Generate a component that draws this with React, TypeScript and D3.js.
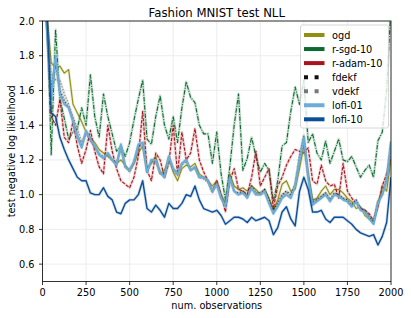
import * as d3 from "d3";

const OBS = d3.range(0, 2001, 25);

const ogd = [
  2.4, 2.05, 1.76, 1.73, 1.74, 1.70, 1.72, 1.52, 1.47, 1.42,
  1.36, 1.33, 1.30, 1.26, 1.24, 1.22, 1.20, 1.18, 1.20, 1.17,
  1.14, 1.18, 1.24, 1.28, 1.15, 1.18, 1.22, 1.12, 1.14, 1.21,
  1.13, 1.08, 1.15, 1.17, 1.16, 1.18, 1.12, 1.10, 1.08, 1.05,
  1.08, 1.00, 0.95, 1.12, 1.05, 1.03, 1.04, 1.02, 1.05, 1.03,
  1.00, 1.03, 0.98, 0.91, 0.97, 1.06, 1.08, 1.02, 1.03, 1.15,
  1.28, 1.12, 0.97, 0.98, 1.02, 1.05, 1.00, 1.03, 1.03, 1.01,
  0.98, 0.96, 0.92, 0.93, 0.88, 0.86, 0.84, 0.93, 1.05, 1.02,
  1.20,
];

const rsgd10 = [
  2.4, 2.1, 1.23, 1.95, 1.55, 1.44, 1.32, 1.36, 1.38, 1.50,
  1.40, 1.69, 1.45, 1.33, 1.58, 1.45, 1.35, 1.25, 1.28, 1.22,
  1.30, 1.43, 1.55, 1.66, 1.32, 1.29, 1.45, 1.57, 1.40, 1.32,
  1.45, 1.30, 1.50, 1.65, 1.56, 1.53, 1.40, 1.35, 1.35, 1.18,
  1.36, 1.12, 0.97, 1.16, 1.40, 1.58, 1.14, 1.21, 1.33, 1.22,
  1.13, 1.18, 1.14, 0.96, 1.08, 1.28, 1.30, 1.48, 1.62, 1.52,
  1.66, 1.30, 1.35, 1.24, 1.20, 1.31, 1.18, 1.25, 1.32, 1.20,
  1.19, 1.22, 1.16, 1.10, 1.14, 1.17, 1.10, 1.31, 1.36, 1.60,
  2.10,
];

const radam10 = [
  2.4, 2.0, 1.45, 1.40, 1.55, 1.33, 1.30, 1.42, 1.28, 1.18,
  1.26, 1.37, 1.25, 1.16, 1.12, 1.40, 1.25, 1.15, 1.08, 1.06,
  1.04, 1.10, 1.22, 1.48, 1.14, 1.08, 1.24, 1.20, 1.10, 1.18,
  1.40, 1.12, 1.36, 1.20, 1.24, 1.38, 1.20, 1.13, 1.08, 1.02,
  1.08, 1.00, 0.90, 1.08, 1.15, 1.03, 1.02, 1.00, 1.10, 1.25,
  1.05, 1.10, 1.15, 0.92, 1.05, 1.10, 1.17, 1.22, 1.26, 1.25,
  1.24, 1.27, 1.08, 1.06, 1.17, 1.08, 1.05, 1.06, 0.98, 1.18,
  1.02, 0.98, 0.95, 0.92, 0.91, 0.89, 0.85, 0.93, 1.05, 1.12,
  1.22,
];

const fdekf = [
  2.4, 1.97, 1.62, 1.75, 1.60, 1.54, 1.50, 1.43, 1.34, 1.28,
  1.36, 1.31, 1.28, 1.23, 1.21, 1.24, 1.20, 1.17, 1.28, 1.16,
  1.14, 1.19, 1.28, 1.30, 1.13, 1.20, 1.20, 1.13, 1.10, 1.22,
  1.15, 1.12, 1.18, 1.20, 1.14, 1.16, 1.10, 1.10, 1.08, 1.02,
  1.06, 0.98, 0.94, 1.10, 1.02, 1.01, 1.02, 0.99, 1.05, 1.01,
  1.01, 1.03, 0.97, 0.91, 0.95, 1.00, 1.02, 1.00, 1.06, 1.22,
  1.34, 1.11, 0.96, 0.97, 0.99, 1.01, 0.97, 1.01, 1.00, 0.98,
  0.97, 0.94, 0.97, 0.92, 0.91, 0.87, 0.84, 0.96, 1.00, 1.09,
  1.31,
];

const vdekf = [
  2.4, 1.98, 1.70, 1.66, 1.66, 1.58, 1.52, 1.45, 1.38, 1.30,
  1.36, 1.32, 1.27, 1.24, 1.22, 1.23, 1.20, 1.18, 1.26, 1.16,
  1.13, 1.18, 1.27, 1.29, 1.13, 1.19, 1.19, 1.12, 1.11, 1.21,
  1.14, 1.11, 1.17, 1.19, 1.14, 1.15, 1.10, 1.09, 1.07, 1.01,
  1.07, 0.99, 0.94, 1.09, 1.02, 1.00, 1.01, 0.99, 1.03, 1.00,
  1.00, 1.01, 0.95, 0.90, 0.94, 0.99, 1.01, 0.99, 1.05, 1.18,
  1.30, 1.09, 0.95, 0.97, 0.99, 1.01, 0.97, 1.00, 0.99, 0.98,
  0.96, 0.94, 0.96, 0.92, 0.91, 0.88, 0.85, 0.96, 1.01, 1.07,
  1.28,
];

const lofi01 = [
  2.4, 1.95, 1.55, 1.80, 1.58, 1.52, 1.50, 1.42, 1.33, 1.27,
  1.37, 1.32, 1.28, 1.23, 1.21, 1.24, 1.20, 1.17, 1.29, 1.16,
  1.14, 1.19, 1.29, 1.30, 1.13, 1.20, 1.20, 1.13, 1.10, 1.22,
  1.15, 1.12, 1.18, 1.20, 1.14, 1.16, 1.10, 1.10, 1.08, 1.02,
  1.06, 0.98, 0.93, 1.10, 1.02, 1.00, 1.01, 0.98, 1.04, 1.00,
  1.00, 1.02, 0.95, 0.89, 0.93, 0.98, 1.00, 0.98, 1.05, 1.20,
  1.33, 1.10, 0.94, 0.96, 0.98, 1.00, 0.96, 1.00, 0.99, 0.97,
  0.96, 0.93, 0.96, 0.91, 0.90, 0.86, 0.83, 0.95, 1.00, 1.08,
  1.30,
];

const lofi10 = [
  2.4, 2.05, 1.47, 1.45, 1.33, 1.26, 1.20, 1.15, 1.10, 1.08,
  1.08, 1.01, 1.00, 1.00, 1.04, 0.99, 0.97, 0.90, 0.89, 0.95,
  0.97, 0.97, 1.00, 1.08, 0.92, 0.90, 0.94, 0.91, 0.87, 0.95,
  0.92, 0.92, 0.95, 1.00, 0.99, 1.05, 0.97, 0.92, 0.91, 0.90,
  0.91, 0.88, 0.83, 0.85, 0.87, 0.87, 0.86, 0.84, 0.87, 0.85,
  0.86, 0.87, 0.85, 0.77, 0.81, 0.90, 0.93, 0.86, 0.82, 1.02,
  1.10, 1.03, 0.90, 0.90, 0.91, 0.86, 0.84, 0.87, 0.87, 0.87,
  0.85, 0.83, 0.80, 0.78, 0.77, 0.76, 0.77, 0.71, 0.76, 0.84,
  1.10,
];

const X_TICKS = [0, 250, 500, 750, 1000, 1250, 1500, 1750, 2000];
const Y_TICKS = [0.6, 0.8, 1.0, 1.2, 1.4, 1.6, 1.8, 2.0];

const series = [
  { name: "ogd", values: ogd, color: "#8f8f12", width: 1.1, dash: "", legendDash: "" },
  { name: "r-sgd-10", values: rsgd10, color: "#0b6b2e", width: 1.1, dash: "4.5,1.4,1,1.4", legendDash: "" },
  { name: "r-adam-10", values: radam10, color: "#a8141c", width: 1.1, dash: "3.2,1.5", legendDash: "" },
  { name: "fdekf", values: fdekf, color: "#111111", width: 1.1, dash: "1.1,1.9", legendDash: "4,6.6" },
  { name: "vdekf", values: vdekf, color: "#777777", width: 1.1, dash: "1.1,1.9", legendDash: "4,6.6" },
  { name: "lofi-01", values: lofi01, color: "#6aaed8", width: 1.9, dash: "", legendDash: "" },
  { name: "lofi-10", values: lofi10, color: "#0c4f98", width: 1.4, dash: "", legendDash: "" },
];

const W = 411;
const H = 318;
const left = 42.5;
const right = 391;
const top = 21;
const bottom = 281.5;
const FONT = "DejaVu Sans, sans-serif";

export default function App() {
  const x = d3.scaleLinear().domain([0, 2000]).range([left, right]);
  const y = d3.scaleLinear().domain([0.5, 2.0]).range([bottom, top]);
  const line = d3
    .line<number>()
    .x((_, i) => x(OBS[i]))
    .y((d) => y(d));

  return (
    <svg
      width={W}
      height={H}
      style={{ position: "fixed", left: 0, top: 0, background: "#fff" }}
      fontFamily={FONT}
    >
      <defs>
        <clipPath id="plot">
          <rect x={left} y={top} width={right - left} height={bottom - top} />
        </clipPath>
      </defs>

      {/* grid */}
      {X_TICKS.map((t) => (
        <line key={"gx" + t} x1={x(t)} x2={x(t)} y1={top} y2={bottom} stroke="#e8e8e8" strokeWidth={0.8} />
      ))}
      {Y_TICKS.map((t) => (
        <line key={"gy" + t} x1={left} x2={right} y1={y(t)} y2={y(t)} stroke="#e8e8e8" strokeWidth={0.8} />
      ))}

      {/* series, each with a faint band underneath */}
      <g clipPath="url(#plot)">
        {series.map((s) => (
          <g key={s.name}>
            <path d={line(s.values) || ""} fill="none" stroke={s.color} strokeOpacity={0.2} strokeWidth={s.width + 1.6} strokeLinejoin="round" />
            <path d={line(s.values) || ""} fill="none" stroke={s.color} strokeWidth={s.width} strokeDasharray={s.dash || undefined} strokeLinejoin="round" />
          </g>
        ))}
      </g>

      {/* spines */}
      <rect x={left} y={top} width={right - left} height={bottom - top} fill="none" stroke="#000" strokeWidth={0.8} />

      {/* ticks */}
      {X_TICKS.map((t) => (
        <g key={"xt" + t}>
          <line x1={x(t)} x2={x(t)} y1={bottom} y2={bottom + 3.5} stroke="#000" strokeWidth={0.8} />
          <text x={x(t)} y={bottom + 14.5} textAnchor="middle" fontSize={9.75}>{t}</text>
        </g>
      ))}
      {Y_TICKS.map((t) => (
        <g key={"yt" + t}>
          <line x1={left - 3.5} x2={left} y1={y(t)} y2={y(t)} stroke="#000" strokeWidth={0.8} />
          <text x={left - 8} y={y(t) + 3.5} textAnchor="end" fontSize={9.75}>{t.toFixed(1)}</text>
        </g>
      ))}

      {/* labels */}
      <text x={(left + right) / 2} y={bottom + 27.5} textAnchor="middle" fontSize={9.75}>num. observations</text>
      <text transform={`translate(15,${(top + bottom) / 2}) rotate(-90)`} textAnchor="middle" fontSize={9.75}>test negative log likelihood</text>
      <text x={(left + right) / 2} y={16.5} textAnchor="middle" fontSize={11.7}>Fashion MNIST test NLL</text>

      {/* legend */}
      <g>
        <rect x={300.5} y={25} width={88} height={103} rx={2} fill="#fff" fillOpacity={0.8} stroke="#cccccc" strokeWidth={0.8} />
        {series.map((s, i) => {
          const ly = 35 + i * 14.05;
          return (
            <g key={"lg" + s.name}>
              <line x1={304} x2={324.5} y1={ly} y2={ly} stroke={s.color} strokeWidth={4} strokeDasharray={s.legendDash || undefined} />
              <text x={332} y={ly + 3.5} fontSize={9.75}>{s.name}</text>
            </g>
          );
        })}
      </g>
    </svg>
  );
}
